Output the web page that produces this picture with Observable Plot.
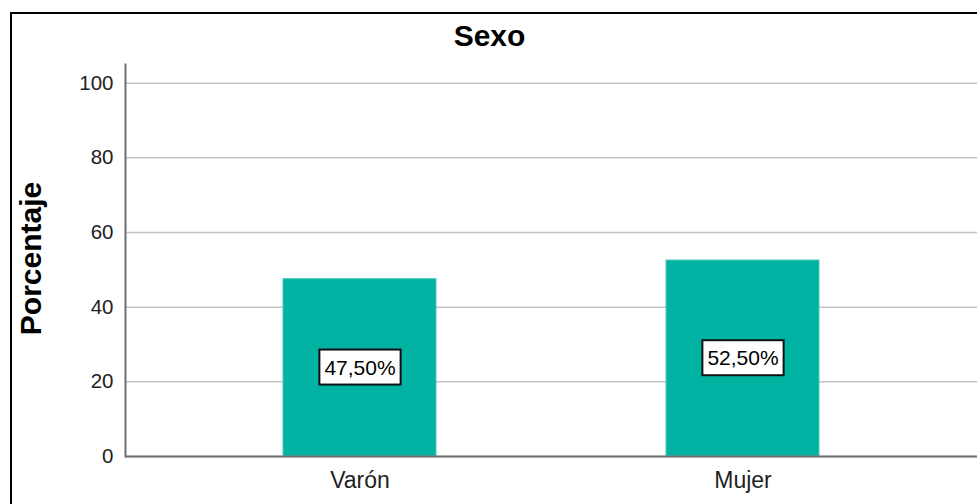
<!DOCTYPE html>
<html>
<head>
<meta charset="utf-8">
<script src="https://cdn.jsdelivr.net/npm/d3@7"></script>
<script src="https://cdn.jsdelivr.net/npm/@observablehq/plot@0.6"></script>
<style>
  html, body { margin: 0; padding: 0; background: #fff; }
  #wrap { position: relative; width: 977px; height: 504px; overflow: hidden; }
  #border { position: absolute; left: 10px; top: 12px; width: 2000px; height: 2000px;
            border-left: 2px solid #000; border-top: 2px solid #000; box-sizing: border-box; }
  #chart { position: absolute; left: 0; top: 0; }
</style>
</head>
<body>
<div id="wrap"><div id="border"></div><div id="chart"></div></div>
<script>
const title = "Sexo";
const yLabel = "Porcentaje";
const categories = ["Varón", "Mujer"];
const percentages = [47.5, 52.5];
const yTicks = [0, 20, 40, 60, 80, 100];

const fmt = v => d3.format(".2f")(v).replace(".", ",") + "%";
const data = categories.map((c, i) => ({cat: c, pct: percentages[i], label: fmt(percentages[i])}));

const plot = Plot.plot({
  width: 977,
  height: 504,
  marginLeft: 125,
  marginRight: 0,
  marginTop: 64,
  marginBottom: 48,
  style: {fontFamily: "'Liberation Sans', Arial, sans-serif", background: "transparent", color: "#000"},
  x: {domain: categories, paddingInner: 0.6, paddingOuter: 0.41, label: null},
  y: {domain: [0, 105], label: null},
  marks: [
    Plot.gridY(yTicks, {stroke: "#c4c4c4", strokeOpacity: 1, strokeWidth: 1.5}),
    Plot.barY(data, {x: "cat", y: "pct", fill: "#00b2a1", stroke: "#4cc9bb", strokeWidth: 1}),
    Plot.ruleY([0], {stroke: "#6e6e6e", strokeWidth: 2}),
    Plot.frame({anchor: "left", stroke: "#6e6e6e", strokeWidth: 2}),
    Plot.axisY(yTicks, {tickSize: 0, tickPadding: 12, fontSize: 20.5, fill: "#222", label: null}),
    Plot.axisX({tickSize: 0, tickPadding: 15, fontSize: 23, fill: "#222", label: null}),
    Plot.text(data, {x: "cat", y: d => d.pct / 2, text: "label", fontSize: 21, fill: "#000", className: "val-labels"}),
    Plot.text([title], {frameAnchor: "top", lineAnchor: "middle", textAnchor: "middle", dx: -62, dy: -28, fontSize: 30, fontWeight: "bold", fill: "#000"}),
    Plot.text([yLabel], {frameAnchor: "left", textAnchor: "middle", lineAnchor: "middle", rotate: -90, dx: -94, dy: -2, fontSize: 30, fontWeight: "bold", fill: "#000"})
  ]
});

document.getElementById("chart").appendChild(plot);

// white label boxes with black border behind value labels
document.querySelectorAll("g.val-labels text").forEach(t => {
  const b = t.getBBox();
  const padX = 5, padY = 6;
  const r = document.createElementNS("http://www.w3.org/2000/svg", "rect");
  r.setAttribute("x", b.x - padX);
  r.setAttribute("y", b.y - padY);
  r.setAttribute("width", b.width + 2 * padX);
  r.setAttribute("height", b.height + 2 * padY);
  r.setAttribute("fill", "#fff");
  r.setAttribute("stroke", "#111");
  r.setAttribute("stroke-width", "2");
  const tr = t.getAttribute("transform");
  if (tr) r.setAttribute("transform", tr);
  t.parentNode.insertBefore(r, t);
});
</script>
</body>
</html>
